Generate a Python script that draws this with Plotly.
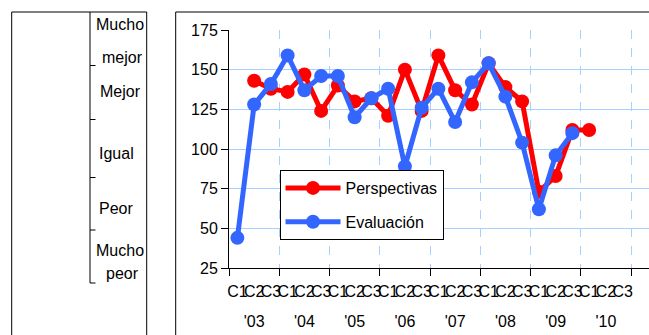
import plotly.graph_objects as go

# ---------------- data ----------------
quarters = ["C1", "C2", "C3"] * 8
years = ["'03", "'04", "'05", "'06", "'07", "'08", "'09", "'10"]
perspectivas = [None, 143, 138, 136, 147, 124, 140, 130, 132, 121, 150, 124,
                159, 137, 128, 154, 139, 130, 73, 83, 112, 112, None, None]
evaluacion = [44, 128, 141, 159, 137, 146, 146, 120, 132, 138, 89, 126,
              138, 117, 142, 154, 133, 104, 62, 96, 110, None, None, None]
y_ticks = [25, 50, 75, 100, 125, 150, 175]
scale_labels = ["Mucho", "mejor", "Mejor", "Igual", "Peor", "Mucho", "peor"]

# ---------------- layout geometry (pixels) ----------------
W, H = 649, 335
L, R, T, B = 229, 649, 30, 268


def px(x):
    return (x - L) / (R - L)


def py(y):
    return (B - y) / (B - T)


FONT = "Liberation Sans, Arial, sans-serif"
RED = "#FF0000"
BLUE = "#3366FF"
GRID = "#A6D0FF"

xs = list(range(len(quarters)))
year_centers = [3 * i + 1 for i in range(len(years))]
year_bounds = [3 * i - 0.5 for i in range(len(years) + 1)]
xrange = [-0.5, -0.5 + (R - L) / 16.75]

fig = go.Figure()
fig.add_trace(go.Scatter(
    x=xs, y=perspectivas, name="Perspectivas", mode="lines+markers",
    line=dict(color=RED, width=5), marker=dict(color=RED, size=14),
    legendgroup="a", connectgaps=False))
fig.add_trace(go.Scatter(
    x=xs, y=evaluacion, name="Evaluación", mode="lines+markers",
    line=dict(color=BLUE, width=5), marker=dict(color=BLUE, size=14),
    legendgroup="b", connectgaps=False))

fig.update_layout(
    width=W, height=H,
    margin=dict(l=L, r=W - R, t=T, b=H - B, pad=0),
    paper_bgcolor="white", plot_bgcolor="white",
    font=dict(family=FONT, size=16, color="black"),
    showlegend=True,
    legend=dict(
        x=px(279.5), y=py(170), xanchor="left", yanchor="top",
        bordercolor="black", borderwidth=1, bgcolor="white",
        font=dict(family=FONT, size=16, color="black"),
        traceorder="grouped", tracegroupgap=10, itemwidth=55,
    ),
    xaxis=dict(
        range=xrange, tickmode="array", tickvals=year_bounds,
        showticklabels=False, ticks="outside", ticklen=7, tickcolor="black",
        showgrid=True, gridcolor=GRID, griddash="dash", gridwidth=1,
        showline=True, linecolor="black", linewidth=1, zeroline=False,
    ),
    xaxis2=dict(
        overlaying="x", anchor="y", side="bottom", range=xrange,
        tickmode="array", tickvals=xs, ticktext=quarters, tickangle=0,
        ticks="", showgrid=False, showline=False, zeroline=False,
        ticklabelstandoff=12, tickfont=dict(family=FONT, size=16, color="black"),
    ),
    xaxis3=dict(
        overlaying="x", anchor="y", side="bottom", range=xrange,
        tickmode="array", tickvals=year_centers, ticktext=years, tickangle=0,
        ticks="", showgrid=False, showline=False, zeroline=False,
        ticklabelstandoff=42, tickfont=dict(family=FONT, size=16, color="black"),
    ),
    yaxis=dict(
        range=[25, 175], tickmode="array", tickvals=y_ticks,
        ticks="outside", ticklen=7, tickcolor="black",
        showgrid=True, gridcolor=GRID, gridwidth=1,
        showline=True, linecolor="black", linewidth=1, zeroline=False,
        tickfont=dict(family=FONT, size=16, color="black"),
    ),
)

# dummy traces to activate the label axes
fig.add_trace(go.Scatter(x=[None], y=[None], xaxis="x2", showlegend=False, hoverinfo="skip"))
fig.add_trace(go.Scatter(x=[None], y=[None], xaxis="x3", showlegend=False, hoverinfo="skip"))

shapes = []
line_k = dict(color="black", width=1)
# left panel box
shapes.append(dict(type="rect", xref="paper", yref="paper",
                   x0=px(11.7), x1=px(146.7), y0=py(H + 20), y1=py(12),
                   line=line_k, fillcolor="rgba(0,0,0,0)", layer="above"))
# right panel frame
shapes.append(dict(type="line", xref="paper", yref="paper",
                   x0=px(175.7), x1=px(175.7), y0=py(H + 20), y1=py(12), line=line_k))
shapes.append(dict(type="line", xref="paper", yref="paper",
                   x0=px(175.7), x1=px(W + 20), y0=py(12), y1=py(12), line=line_k))
# bracket of the qualitative scale
shapes.append(dict(type="line", xref="paper", yref="paper",
                   x0=px(90), x1=px(90), y0=py(12), y1=py(283), line=line_k))
for ty in [65.5, 119.5, 177.5, 230, 283]:
    shapes.append(dict(type="line", xref="paper", yref="paper",
                       x0=px(90), x1=px(95.5), y0=py(ty), y1=py(ty), line=line_k))
fig.update_layout(shapes=shapes)

# qualitative labels
label_pos = [(120, 24.5, "center"), (122, 57.5, "center"), (97.5, 91.5, "left"),
             (96.5, 153, "left"), (96.5, 208, "left"), (120, 250, "center"),
             (122, 273, "center")]
for txt, (lx, ly, anc) in zip(scale_labels, label_pos):
    fig.add_annotation(text=txt, xref="paper", yref="paper", x=px(lx), y=py(ly),
                       xanchor=anc, yanchor="middle", showarrow=False,
                       font=dict(family=FONT, size=16, color="black"))

html = fig.to_html(include_plotlyjs=True, full_html=True,
                   config={"displayModeBar": False})
html = html.replace("<head>", "<head><style>html,body{margin:0;padding:0;overflow:hidden}</style>", 1)
with open("out.html", "w", encoding="utf-8") as f:
    f.write(html)
